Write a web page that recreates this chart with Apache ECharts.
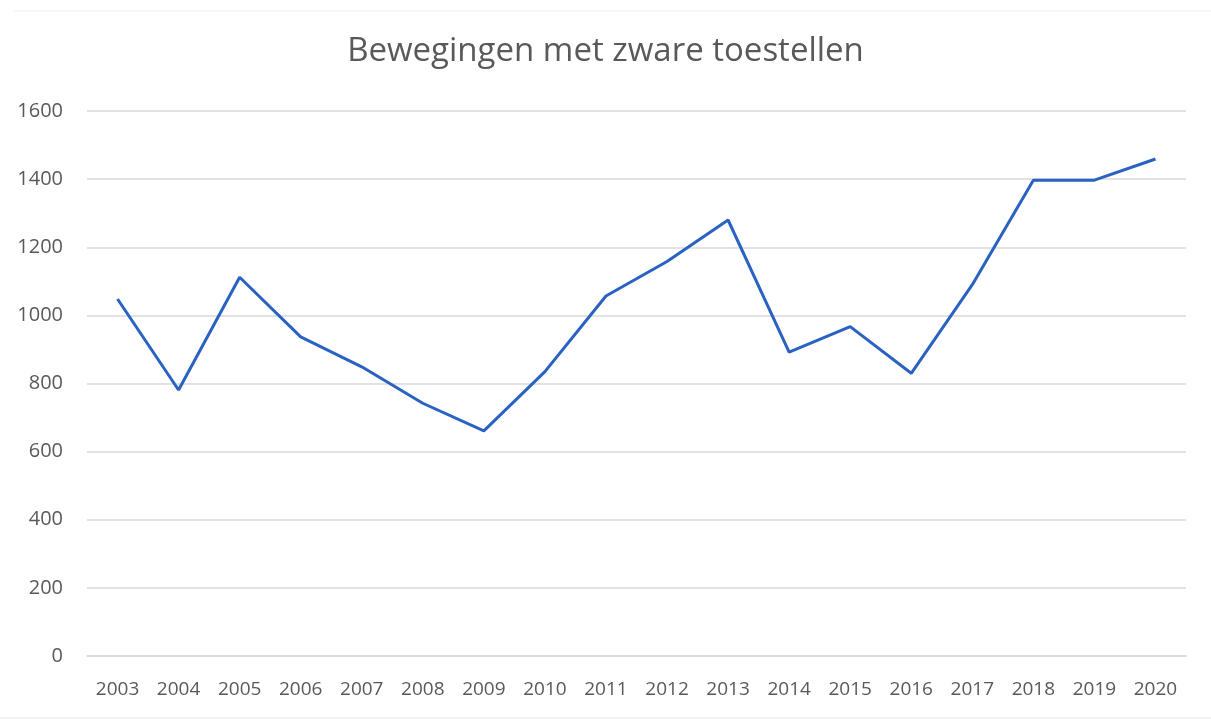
<!DOCTYPE html>
<html>
<head>
<meta charset="utf-8">
<script src="https://cdn.jsdelivr.net/npm/echarts@6/dist/echarts.min.js"></script>
<style>
html,body{margin:0;padding:0;background:#fff;}
#c{width:1211px;height:722px;}
</style>
</head>
<body>
<div id="c"></div>
<script>
const titleText = "Bewegingen met zware toestellen";
const years = ["2003","2004","2005","2006","2007","2008","2009","2010","2011","2012","2013","2014","2015","2016","2017","2018","2019","2020"];
const movements = [1048,781,1112,937,849,742,661,835,1057,1158,1280,892,967,830,1090,1397,1397,1459];
const yTicks = [0,200,400,600,800,1000,1200,1400,1600];

const chart = echarts.init(document.getElementById('c'));
chart.setOption({
  animation:false,
  backgroundColor:'#ffffff',
  title:{
    text:titleText,
    left:'center',
    top:30,
    textStyle:{fontFamily:'Open Sans',fontWeight:'normal',fontSize:33,color:'#595959'}
  },
  graphic:[
    {type:'line',shape:{x1:14,y1:11,x2:1211,y2:11},style:{stroke:'#eeeeee',lineWidth:1}},
    {type:'line',shape:{x1:0,y1:718,x2:1211,y2:718},style:{stroke:'#e6e6e6',lineWidth:1}}
  ],
  grid:{left:87,right:25,top:111,bottom:66,containLabel:false},
  xAxis:{
    type:'category',
    data:years,
    boundaryGap:true,
    axisLine:{show:true,lineStyle:{color:'#d9d9d9',width:1.5}},
    axisTick:{show:false},
    axisLabel:{color:'#595959',fontFamily:'Open Sans',fontSize:19,margin:24}
  },
  yAxis:{
    type:'value',
    min:yTicks[0],
    max:yTicks[yTicks.length-1],
    interval:200,
    axisLine:{show:false},
    axisTick:{show:false},
    splitLine:{lineStyle:{color:'#d9d9d9',width:1.5}},
    axisLabel:{color:'#595959',fontFamily:'Open Sans',fontSize:20,margin:24,formatter:function(v){return String(v);}}
  },
  series:[{
    type:'line',
    data:movements,
    symbol:'none',
    lineStyle:{color:'#2a62c2',width:3},
    itemStyle:{color:'#2a62c2'}
  }]
});
</script>
</body>
</html>
